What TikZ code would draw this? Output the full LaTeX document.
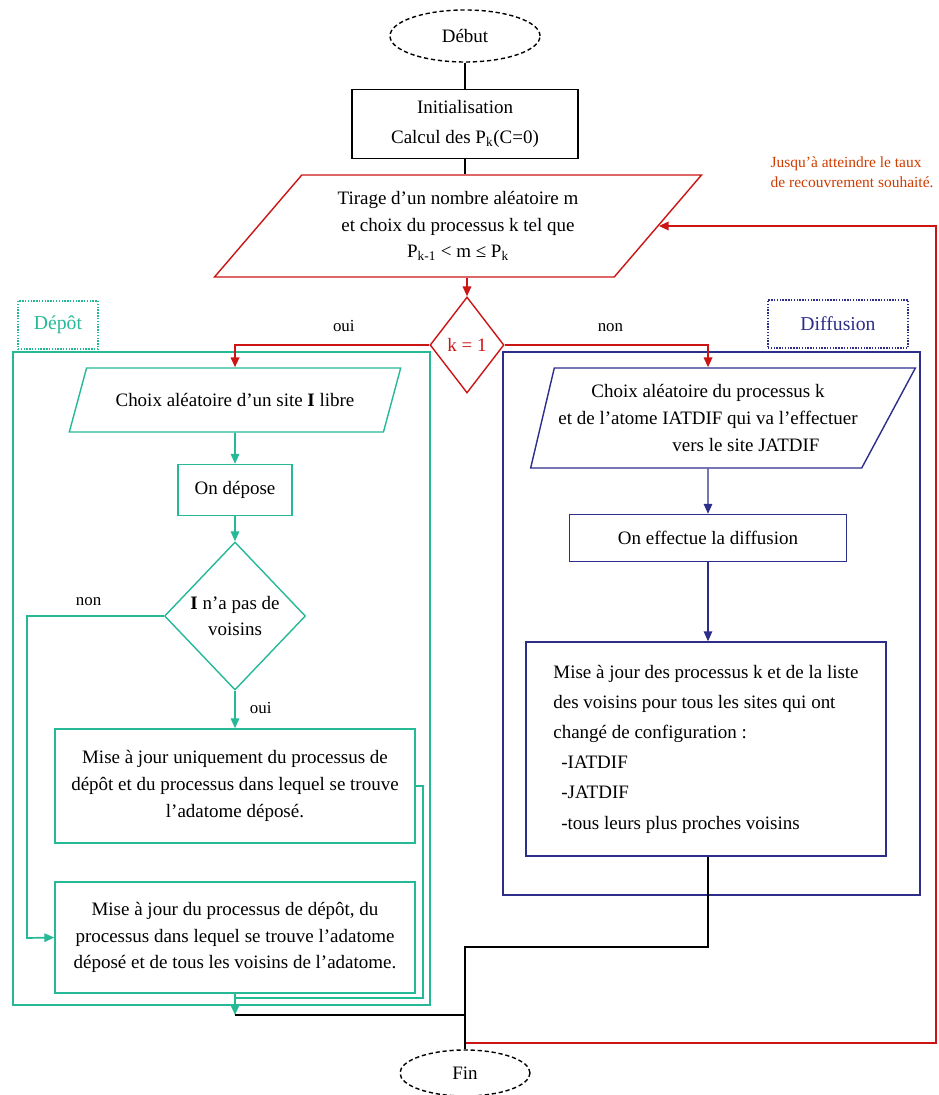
\documentclass[tikz,border=0pt]{standalone}
\usepackage{fontspec}
\setmainfont{Liberation Serif}
\usetikzlibrary{shapes.geometric,arrows.meta}
\definecolor{depotcol}{RGB}{38,185,150}
\definecolor{diffcol}{RGB}{45,45,140}
\definecolor{tiragecol}{RGB}{205,20,20}
\definecolor{notecol}{RGB}{205,60,0}
\begin{document}
\begin{tikzpicture}[x=0.025cm, y=-0.025cm, line width=1pt, >={Triangle[length=7pt,width=6pt]},
  base font/.style={font=\fontsize{13.5}{19}\selectfont},
  term node/.style={ellipse,draw,densely dashed,base font,inner sep=0pt},
  box node/.style={rectangle,draw,base font,align=center,inner sep=2pt},
  io node/.style={trapezium,trapezium stretches=true,draw,base font,align=center,inner sep=0pt},
  test node/.style={diamond,draw,base font,align=center,inner sep=0pt},
  group box/.style={rectangle,draw,line width=1.2pt},
  group label/.style={rectangle,draw,densely dotted,font=\fontsize{14}{16}\selectfont,minimum height=1.2cm},
  tag/.style={font=\fontsize{12}{14}\selectfont,inner sep=0pt}]
\useasboundingbox (0,0) rectangle (938,1095);
% main column
\begin{scope}
\node[term node,minimum width=3.75cm,minimum height=1.3cm] (debut) at (465,36) {Début};
\node[box node,minimum width=5.65cm,minimum height=1.725cm,font=\fontsize{13.5}{21}\selectfont] (init) at (465,124) {Initialisation\\Calcul des P\textsubscript{k}(C=0)};
\node[io node,tiragecol,text=black,trapezium left angle=46,trapezium right angle=134,minimum width=12.2cm,minimum height=2.55cm] (tirage) at (458,226) {Tirage d’un nombre aléatoire m\\et choix du processus k tel que\\P\textsubscript{k-1} < m ≤ P\textsubscript{k}};
\node[test node,tiragecol,minimum width=1.85cm,minimum height=2.4cm] (k1) at (467,345) {k = 1};
\node[term node,minimum width=3.25cm,minimum height=1.15cm] (fin) at (465,1073) {Fin};
\node[notecol,font=\fontsize{11}{14}\selectfont,align=left,anchor=north west,inner sep=0pt] (note) at (770,156) {Jusqu’à atteindre le taux\\de recouvrement souhaité.};
\end{scope}
% depot branch
\begin{scope}[depotcol]
\node[group box,minimum width=10.425cm,minimum height=16.325cm] (depotbox) at (221.5,678.5) {};
\node[group label,minimum width=2cm] (depotlabel) at (58,325) {Dépôt};
\node[io node,text=black,trapezium left angle=44,trapezium right angle=136,minimum width=8.3cm,minimum height=1.6cm] (choixsite) at (235,400) {Choix aléatoire d’un site \textbf{I} libre};
\node[box node,text=black,minimum width=2.85cm,minimum height=1.275cm] (depose) at (235,490) {On dépose};
\node[test node,text=black,minimum width=3.525cm,minimum height=3.7cm] (voisins) at (235,616) {\textbf{I} n’a pas de\\voisins};
\node[box node,text=black,minimum width=9cm,minimum height=2.85cm] (maj1) at (235,786) {Mise à jour uniquement du processus de\\dépôt et du processus dans lequel se trouve\\l’adatome déposé.};
\node[box node,text=black,minimum width=9cm,minimum height=2.775cm] (maj2) at (235,937.5) {Mise à jour du processus de dépôt, du\\processus dans lequel se trouve l’adatome\\déposé et de tous les voisins de l’adatome.};
\end{scope}
% diffusion branch
\begin{scope}[diffcol]
\node[group box,minimum width=10.425cm,minimum height=13.575cm] (diffbox) at (711.5,623.5) {};
\node[group label,minimum width=3.5cm] (difflabel) at (838,324) {Diffusion};
\node[io node,text=black,trapezium left angle=71,trapezium right angle=128,minimum width=9.625cm,minimum height=2.5cm] (choixproc) at (708,418) {Choix aléatoire du processus k\\et de l’atome IATDIF qui va l’effectuer\\\hspace{4em}vers le site JATDIF};
\node[box node,text=black,minimum width=6.925cm,minimum height=1.175cm] (effectue) at (708,538) {On effectue la diffusion};
\node[box node,text=black,minimum width=9cm,minimum height=5.35cm,align=left,font=\fontsize{13.5}{21.5}\selectfont] (diffmaj) at (706,749) {Mise à jour des processus k et de la liste\\des voisins pour tous les sites qui ont\\changé de configuration :\\\hspace{0.2cm}-IATDIF\\\hspace{0.2cm}-JATDIF\\\hspace{0.2cm}-tous leurs plus proches voisins};
\end{scope}
% free ends of the connectors
\coordinate (nonturn) at (27,938);
\coordinate (ouiturn) at (423,998);
\coordinate (join) at (235,998);
\coordinate (merge) at (235,1015);
\coordinate (finturn) at (465,947);
\coordinate (finjoin) at (465,1015);
\coordinate (loopstart) at (465,1043);
\coordinate (loopcorner) at (936,1043);
% connectors
\begin{scope}
\draw (debut) -- (init);
\draw (init) -- (init |- tirage.north);
\draw[tiragecol,line width=1.4pt,->] (k1 |- tirage.south) -- (k1);
\draw[tiragecol,line width=1.4pt,->] (k1.west) -| node[pos=0.22,above=9pt,tag,text=black]{oui} (choixsite.north);
\draw[tiragecol,line width=1.4pt,->] (k1.east) -| node[pos=0.26,above=9pt,tag,text=black]{non} (choixproc.north);
\draw[tiragecol,line width=1.4pt,->] (loopstart) -- (loopcorner) |- (tirage.east);
\end{scope}
\begin{scope}[depotcol,line width=1.2pt]
\draw[->] (choixsite) -- (depose);
\draw[->] (depose) -- (voisins);
\draw[->] (voisins) -- node[right=10pt,pos=0.45,tag,text=black]{oui} (maj1);
\draw[->] (voisins.west) -- node[above=7pt,pos=0.55,tag,text=black]{non} (voisins.west -| nonturn) -- (nonturn) -- (maj2.west);
\draw (maj1.east) -| (ouiturn) -- (join);
\draw[->] (maj2) -- (merge);
\end{scope}
\begin{scope}[diffcol]
\draw[->] (choixproc) -- (effectue);
\draw[->] (effectue) -- (effectue |- diffmaj.north);
\end{scope}
\begin{scope}
\draw (effectue |- diffmaj.south) |- (finturn) -- (fin);
\draw (merge) -- (finjoin);
\end{scope}
\end{tikzpicture}
\end{document}
